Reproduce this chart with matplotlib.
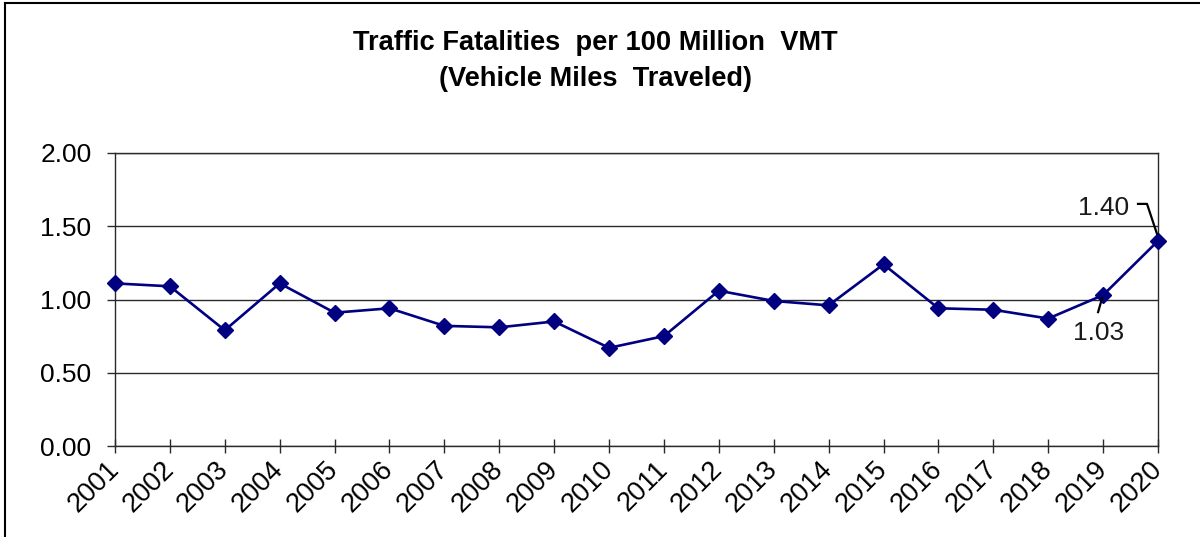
import matplotlib
matplotlib.use("Agg")
import matplotlib.pyplot as plt
from matplotlib.lines import Line2D

years = list(range(2001, 2021))
rates = [1.11, 1.09, 0.79, 1.11, 0.91, 0.94, 0.82, 0.81, 0.85, 0.67,
         0.75, 1.06, 0.99, 0.96, 1.24, 0.94, 0.93, 0.87, 1.03, 1.40]
yticks = [0.0, 0.5, 1.0, 1.5, 2.0]
title = "Traffic Fatalities  per 100 Million  VMT\n(Vehicle Miles  Traveled)"
labelled_years = [2019, 2020]

plt.rcParams['font.family'] = ['Liberation Sans', 'DejaVu Sans']

DPI = 100
fig = plt.figure(figsize=(12.0, 5.37), dpi=DPI)
W, H = 1200, 537
ax = fig.add_axes([115 / W, 1 - 446 / H, (1158 - 115) / W, (446 - 153) / H])

navy = '#000080'
grid_c = '#2a2a2a'

ax.plot(years, rates, color=navy, lw=1.9, marker='D', ms=8,
        markerfacecolor=navy, markeredgecolor=navy, clip_on=False, zorder=5)

ax.set_xlim(years[0], years[-1])
ax.set_ylim(yticks[0], yticks[-1])
ax.set_yticks(yticks)
ax.set_yticklabels([f"{v:.2f}" for v in yticks], fontsize=19)
ax.set_xticks(years)
ax.set_xticklabels([str(y) for y in years], fontsize=19.5, rotation=45,
                   ha='right', rotation_mode='anchor', va='center')
ax.tick_params(axis='y', direction='out', length=6, width=1, color=grid_c, pad=11)
ax.tick_params(axis='x', direction='inout', length=10, width=1, color=grid_c, pad=9)
for y in yticks:
    ax.axhline(y, color=grid_c, lw=1.0, zorder=1)
for s in ax.spines.values():
    s.set_color(grid_c)
    s.set_linewidth(1.0)

fig.text(0.496, 1 - 61.5 / H, title, ha='center', va='center', fontsize=19.6,
         fontweight='bold', linespacing=1.5)

# data labels with leader lines (pixel offsets from the data point)
label_specs = {
    2020: dict(text_off=(-29, 33), ha='right',
               leader=[(-20, 37), (-11, 37), (-1, 7)]),
    2019: dict(text_off=(-5, -38), ha='center',
               leader=[(-1, -3), (-5, -17)]),
}
for yr in labelled_years:
    val = rates[years.index(yr)]
    spec = label_specs[yr]
    ax.annotate(f"{val:.2f}", xy=(yr, val), xytext=spec['text_off'],
                textcoords='offset pixels', ha=spec['ha'], va='center',
                fontsize=19, color='#1a1a1a', annotation_clip=False, zorder=6)
    px, py = ax.transData.transform((yr, val))
    xs = [(px + dx) / W for dx, dy in spec['leader']]
    ys = [(py + dy) / H for dx, dy in spec['leader']]
    fig.add_artist(Line2D(xs, ys, transform=fig.transFigure, color='black', lw=1.6))

# outer chart border (top and left visible)
fig.add_artist(Line2D([5 / W, 5 / W], [0, 1 - 3 / H], transform=fig.transFigure,
                      color='black', lw=1.5))
fig.add_artist(Line2D([5 / W, 1], [1 - 3 / H, 1 - 3 / H], transform=fig.transFigure,
                      color='black', lw=1.5))

fig.savefig("out.png", dpi=DPI)
